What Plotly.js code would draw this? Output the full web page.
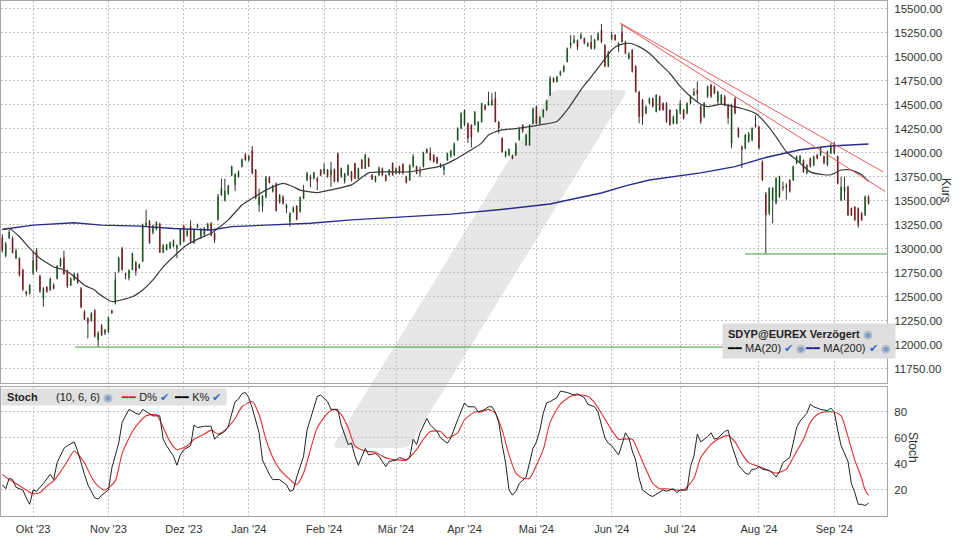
<!DOCTYPE html>
<html><head><meta charset="utf-8">
<script src="https://cdn.plot.ly/plotly-3.0.1.min.js"></script>
<style>html,body{margin:0;padding:0;background:#fff}#chart{width:960px;height:540px}</style>
</head><body><div id="chart"></div>
<script>
// ---- Daily candles (trading-day index 0 = 19 Sep 2023) ----
const openP = [13120,12925,13110,13110,12900,12900,12780,12555,12535,12745,12985,12715,12485,12600,12570,12620,12685,12820,12910,12770,
12620,12675,12735,12585,12345,12275,12250,12360,12050,12200,12120,12135,12355,12435,12765,13005,12740,12695,12780,12860,
12800,12870,13240,13285,13165,13200,13260,12960,12990,13005,13025,13000,13040,13240,13135,13235,13060,13225,13130,13145,
13200,13265,13160,13305,13560,13505,13570,13765,13665,13750,13855,13980,13920,14025,13820,13455,13440,13535,13745,13595,
13680,13480,13540,13420,13280,13385,13445,13385,13525,13715,13750,13730,13735,13820,13785,13820,13765,13825,13995,13750,
13700,13765,13800,13890,13730,13925,13835,13940,13765,13700,13765,13835,13765,13765,13890,13785,13855,13880,13750,13715,
13855,13855,13790,13855,14035,14000,13975,13950,13850,13820,13925,13960,13975,14130,14255,14290,14305,14290,14290,14220,
14320,14495,14495,14495,14565,14320,14150,13965,13975,13970,13975,14130,14290,14080,14080,14305,14480,14305,14375,14445,
14600,14775,14740,14810,14845,14945,15120,15145,15170,15190,15190,15110,15155,15085,15175,15275,15120,14900,15190,15225,
15100,15260,15155,14980,15070,14900,14635,14550,14410,14515,14565,14425,14585,14515,14515,14445,14305,14305,14410,14445,
14410,14515,14600,14650,14480,14375,14585,14705,14685,14530,14515,14585,14495,14100,14565,14255,14065,14045,14115,14130,
14290,14270,13905,13575,13370,13510,13475,13540,13645,13640,13715,13715,13890,13905,13920,13785,13940,13870,13975,13975,
13960,13870,13995,14095,13960,13505,13595,13645,13420,13435,13420,13370,13350,13540];
const highP = [13150,13070,13195,13130,13000,12910,12790,12560,12630,12970,13005,12730,12600,12610,12700,12640,12830,12905,12980,12780,
12700,12750,12745,12600,12360,12285,12340,12370,12140,12215,12165,12295,12365,12755,12915,13020,12750,12785,12960,12870,
12845,13260,13405,13300,13250,13285,13270,13045,13050,13075,13095,13045,13210,13250,13200,13295,13210,13260,13215,13225,
13270,13275,13170,13570,13730,13730,13665,13865,13785,13815,13940,13995,13975,14070,13830,13625,13560,13755,13755,13665,
13690,13570,13555,13470,13380,13440,13455,13545,13665,13800,13770,13800,13745,13830,13890,13830,13905,13835,14000,13845,
13790,13880,13810,13895,13845,13935,13990,13950,13780,13760,13855,13845,13775,13830,13900,13845,13865,13890,13760,13880,
13985,13865,13855,14010,14045,14055,13985,13960,13890,13870,14000,14030,14105,14265,14420,14450,14315,14295,14435,14330,
14520,14505,14635,14620,14635,14330,14160,14020,14045,13980,14105,14265,14295,14195,14295,14470,14490,14380,14455,14550,
14800,14785,14800,14855,14915,15095,15225,15225,15180,15250,15200,15150,15225,15185,15255,15340,15130,15060,15260,15235,
15150,15330,15165,15045,15080,14910,14645,14560,14490,14575,14575,14610,14595,14525,14525,14455,14385,14455,14550,14455,
14525,14595,14670,14740,14500,14530,14700,14720,14700,14645,14610,14600,14510,14510,14580,14265,14075,14195,14215,14265,
14390,14280,13920,13590,13640,13640,13745,13760,13700,13680,13725,13865,13970,13975,13930,13880,13950,13970,13990,14060,
13970,14020,14100,14110,13970,13750,13750,13655,13430,13445,13430,13380,13555,13555];
const lowP = [12960,12910,13100,12950,12890,12710,12560,12510,12520,12725,12760,12540,12395,12540,12560,12575,12680,12810,12730,12590,
12610,12665,12635,12380,12255,12065,12240,12075,11980,12090,12100,12125,12320,12420,12750,12770,12680,12670,12775,12720,
12790,12860,13230,13050,13150,13190,12955,12955,12980,12995,13015,12900,13035,13070,13125,13070,13050,13215,13100,13135,
13185,13130,13060,13290,13550,13490,13560,13755,13600,13740,13845,13915,13910,13775,13515,13385,13385,13525,13680,13585,
13385,13470,13460,13370,13230,13375,13295,13375,13515,13705,13640,13720,13610,13755,13775,13740,13645,13690,13690,13740,
13680,13760,13700,13725,13725,13830,13830,13850,13715,13690,13760,13760,13700,13760,13760,13775,13775,13775,13680,13705,
13845,13775,13750,13845,13990,13915,13895,13880,13840,13765,13915,13950,13965,14125,14245,14280,14100,14055,14280,14210,
14315,14440,14490,14490,14315,14200,14000,13950,13965,13930,13965,14125,14210,14070,14070,14295,14295,14295,14365,14435,
14590,14730,14730,14800,14835,14940,15085,15135,15070,15180,15130,15100,15075,15075,15165,15140,14890,14890,15170,15165,
15050,15145,15025,14970,14835,14625,14305,14290,14400,14505,14470,14420,14435,14435,14310,14280,14295,14295,14400,14345,
14400,14505,14590,14530,14300,14360,14570,14570,14610,14500,14505,14485,14300,14045,14400,14155,13840,14035,14105,14120,
14260,14035,13705,12950,13350,13265,13460,13530,13600,13510,13585,13705,13880,13895,13790,13775,13845,13860,13930,13965,
13880,13860,13985,13985,13670,13495,13505,13340,13340,13290,13220,13290,13340,13460];
const closeP = [12980,13055,13175,12960,12980,12725,12575,12530,12620,12880,12780,12555,12585,12555,12685,12585,12820,12895,12735,12605,
12690,12735,12645,12390,12265,12225,12325,12085,12125,12100,12155,12285,12330,12680,12905,12780,12720,12775,12950,12765,
12835,13250,13270,13060,13240,13275,12960,13035,13040,13065,13085,13035,13200,13075,13190,13075,13200,13250,13200,13210,
13260,13140,13090,13550,13630,13600,13655,13855,13775,13800,13930,13925,13965,13785,13525,13540,13550,13745,13685,13655,
13395,13560,13470,13455,13370,13430,13305,13535,13610,13785,13720,13790,13700,13765,13835,13750,13825,13700,13700,13835,
13780,13870,13720,13730,13835,13835,13975,13860,13720,13750,13845,13765,13710,13820,13765,13835,13785,13785,13690,13870,
13960,13785,13810,14000,14000,13925,13905,13890,13880,13855,13995,14020,14095,14255,14410,14445,14150,14160,14425,14320,
14515,14450,14530,14550,14320,14255,14010,14010,14035,13940,14095,14255,14220,14185,14290,14460,14305,14370,14445,14540,
14775,14740,14790,14845,14900,15085,15145,15180,15100,15225,15140,15140,15085,15175,15240,15155,14900,15050,15225,15175,
15140,15155,15035,15035,14845,14635,14375,14375,14480,14565,14480,14600,14445,14445,14325,14290,14375,14445,14515,14355,
14515,14585,14635,14615,14325,14515,14685,14585,14620,14635,14600,14495,14360,14495,14410,14165,14030,14185,14200,14255,
14270,14045,13715,13350,13630,13630,13735,13750,13630,13660,13595,13855,13960,13965,13800,13870,13855,13960,13940,14045,
13890,14010,14060,13995,13680,13645,13645,13350,13350,13300,13245,13300,13540,13470];

// ---- Moving averages (index, value) ----
const ma20Idx = [0,2,5,8,11,15,18,21,24,27,28,32,38,41,44,47,51,54,58,61,66,70,73,77,82,85,87,92,97,102,104,107,111,119,122,128,132,136,140,142,145,148,151,157,162,165,169,172,175,178,180,183,186,189,192,195,198,201,204,206,210,213,216,220,223,226,229,232,236,240,242,245,248,251,253];
const ma20Val = [13200,13210,13125,13005,12900,12810,12780,12710,12620,12570,12535,12450,12500,12570,12675,12810,12950,13040,13115,13160,13300,13455,13525,13610,13680,13645,13610,13585,13620,13665,13715,13790,13800,13800,13820,13860,13925,14010,14100,14185,14230,14245,14255,14290,14325,14445,14655,14790,14930,15070,15120,15140,15105,15035,14930,14825,14690,14585,14505,14480,14505,14485,14460,14410,14305,14165,14010,13925,13800,13770,13770,13820,13820,13770,13700];
const ma200Idx = [0,9,21,29,40,50,61,67,77,90,102,116,131,145,160,167,175,182,189,204,214,223,233,242,253];
const ma200Val = [13200,13245,13270,13245,13235,13210,13195,13230,13245,13265,13300,13330,13360,13405,13465,13520,13580,13655,13715,13790,13855,13950,14030,14070,14090];

// ---- Stochastic (10,6,6) ----
const stochKIdx = [0,1,2,3,4,6,7,8,9,10,12,14,15,16,18,19,21,22,24,25,27,28,29,31,32,34,35,37,39,40,41,43,44,46,47,48,50,51,52,53,55,56,57,59,61,62,63,65,66,68,69,70,71,72,73,75,76,78,79,81,83,84,85,86,88,89,91,92,93,95,96,98,99,100,101,102,103,104,105,106,107,109,110,112,113,115,116,118,119,120,121,122,124,125,127,128,130,131,133,135,136,138,139,141,142,143,144,145,146,147,148,149,150,151,153,154,155,156,157,158,159,160,162,163,165,167,168,170,171,173,174,176,177,178,180,181,182,183,184,185,186,187,189,190,192,193,194,196,197,198,200,201,202,203,204,206,207,208,209,211,212,213,214,215,217,218,219,220,221,222,224,225,226,227,228,230,231,232,233,235,236,237,239,241,242,243,244,245,247,248,249,250,251,252,253];
const stochKVal = [24,21,29,28,22,20,14,9,20,19,25,32,28,41,52,54,57,50,32,24,14,13,16,20,37,56,72,82,79,78,82,79,77,77,59,54,46,39,47,51,54,70,68,69,69,59,62,65,69,88,90,94,95,91,83,64,43,32,28,28,24,19,20,30,46,66,83,92,93,88,82,82,70,63,55,56,46,39,45,52,47,48,46,38,42,43,45,43,45,59,55,64,75,70,65,60,56,60,74,87,84,84,80,82,84,84,80,72,55,41,20,16,19,25,30,41,52,57,66,79,87,88,91,96,95,93,94,91,86,84,80,60,56,54,47,55,64,60,50,43,29,20,16,15,18,20,19,21,18,20,20,38,46,63,57,61,64,59,60,65,66,55,47,39,33,32,36,36,38,36,35,33,30,34,41,45,56,68,73,79,86,84,82,81,83,80,66,54,42,25,18,9,9,8,10,16];
const stochDIdx = [0,2,4,7,9,11,13,15,17,19,21,24,26,28,30,33,35,38,40,42,45,47,49,51,54,56,59,61,63,65,68,70,73,75,77,79,81,84,86,88,90,92,95,97,99,101,103,106,109,111,113,116,118,121,123,125,128,130,133,135,138,140,142,144,146,148,150,152,154,156,158,160,163,166,169,171,173,175,178,180,181,184,186,188,190,192,194,197,199,202,204,207,209,212,214,216,218,221,223,226,229,231,234,236,238,240,243,245,247,249,251,252,253];
const stochDVal = [32,28,25,20,17,18,23,27,34,42,50,41,30,23,20,27,48,65,72,77,78,68,57,51,54,59,63,66,63,66,75,84,88,78,59,45,36,28,24,33,51,68,79,82,78,68,54,50,49,46,44,43,43,51,59,65,65,60,64,74,80,80,82,79,66,47,33,29,29,39,51,72,86,92,93,92,87,79,66,59,59,59,48,36,25,21,21,20,20,29,45,55,59,62,57,48,41,38,36,33,36,45,59,72,78,80,80,77,61,43,29,20,16];

// ---- Trend lines and support lines ----
const trendAIdx = [180.5, 257.3], trendAVal = [15350, 13800];
const trendBIdx = [180.7, 257.9], trendBVal = [15340, 13595];
const support1Idx = [21.3, 258.4], support1Val = [11975, 11975];
const support2Idx = [217, 258.4], support2Val = [12945, 12945];

// ---- Axis labels ----
const monthIdx = [9,31,53,72,94,115,135,156,178,198,221,243];
const monthLabels = ["Okt '23","Nov '23","Dez '23","Jan '24","Feb '24","Mär '24","Apr '24","Mai '24","Jun '24","Jul '24","Aug '24","Sep '24"];

const FONT = 'Arial, "Liberation Sans", sans-serif';
const idx = openP.map((_, i) => i);

// wick trace built from high/low arrays
const wx = [], wy = [];
idx.forEach(i => { wx.push(i, i, null); wy.push(lowP[i], highP[i], null); });

const traces = [
  {type:'scatter', mode:'lines', x:ma200Idx, y:ma200Val, line:{color:'#2b2b8f', width:1.4}, xaxis:'x', yaxis:'y', hoverinfo:'skip'},
  {type:'scatter', mode:'lines', x:support1Idx, y:support1Val, line:{color:'#3c9c3c', width:1}, xaxis:'x', yaxis:'y'},
  {type:'scatter', mode:'lines', x:support2Idx, y:support2Val, line:{color:'#3c9c3c', width:1}, xaxis:'x', yaxis:'y'},
  {type:'scatter', mode:'lines', x:wx, y:wy, line:{color:'#333', width:1}, xaxis:'x', yaxis:'y', hoverinfo:'skip'},
  {type:'candlestick', x:idx, open:openP, high:highP, low:lowP, close:closeP, xaxis:'x', yaxis:'y',
    increasing:{fillcolor:'#1f9e2c', line:{color:'#1f9e2c', width:0}},
    decreasing:{fillcolor:'#e0202a', line:{color:'#e0202a', width:0}}, whiskerwidth:0},
  {type:'scatter', mode:'lines', x:ma20Idx, y:ma20Val, line:{color:'#3a3a3a', width:1.2, shape:'spline', smoothing:0.5}, xaxis:'x', yaxis:'y'},
  {type:'scatter', mode:'lines', x:trendAIdx, y:trendAVal, line:{color:'#ea5a5a', width:1}, xaxis:'x', yaxis:'y'},
  {type:'scatter', mode:'lines', x:trendBIdx, y:trendBVal, line:{color:'#ea5a5a', width:1}, xaxis:'x', yaxis:'y'},
  {type:'scatter', mode:'lines', x:stochDIdx, y:stochDVal, line:{color:'#e03030', width:1.1, shape:'spline', smoothing:0.6}, xaxis:'x2', yaxis:'y2'},
  {type:'scatter', mode:'lines', x:stochKIdx, y:stochKVal, line:{color:'#222', width:1}, xaxis:'x2', yaxis:'y2'}
];

// pixel -> paper helpers (plot area: x 1..887, y 1..516)
const L = 1, R = 73, T = 1, B = 24, W = 960, H = 540;
const pw = W - L - R, ph = H - T - B;
const fx = px => (px - L) / pw;
const fy = py => (H - B - py) / ph;

function roundedPoly(pts, r) {
  let d = '';
  const n = pts.length;
  for (let k = 0; k < n; k++) {
    const p0 = pts[(k - 1 + n) % n], p1 = pts[k], p2 = pts[(k + 1) % n];
    const v1 = [p0[0]-p1[0], p0[1]-p1[1]], v2 = [p2[0]-p1[0], p2[1]-p1[1]];
    const l1 = Math.hypot(...v1), l2 = Math.hypot(...v2);
    const a = [p1[0]+v1[0]/l1*r, p1[1]+v1[1]/l1*r], b = [p1[0]+v2[0]/l2*r, p1[1]+v2[1]/l2*r];
    d += (k === 0 ? 'M' : 'L') + fx(a[0]) + ',' + fy(a[1]) + ' Q' + fx(p1[0]) + ',' + fy(p1[1]) + ' ' + fx(b[0]) + ',' + fy(b[1]) + ' ';
  }
  return d + 'Z';
}

const grid = {showgrid:true, gridcolor:'#c4c4c4', griddash:'2px,2px', gridwidth:1};
const frame = {showline:true, mirror:true, linecolor:'#a6a6a6', linewidth:1, zeroline:false};
const xr = [-0.38, 258.4];

const layout = {
  width:W, height:H, margin:{l:L, r:R, t:T, b:B},
  paper_bgcolor:'#fff', plot_bgcolor:'rgba(0,0,0,0)',
  showlegend:false, font:{family:FONT, size:11, color:'#333'},
  xaxis:Object.assign({domain:[0,1], range:xr, anchor:'y', tickvals:monthIdx, ticktext:monthLabels, showticklabels:false, ticks:'', rangeslider:{visible:false}}, grid, frame),
  yaxis:Object.assign({domain:[fy(383), 1], range:[11601, 15580], side:'right', anchor:'x', tick0:11750, dtick:250, tickformat:'.2f', ticks:'outside', ticklen:4, tickcolor:'rgba(0,0,0,0)', tickfont:{size:11.5, color:'#333'}}, grid, frame),
  xaxis2:Object.assign({domain:[0,1], range:xr, anchor:'y2', tickvals:monthIdx, ticktext:monthLabels, ticks:'outside', ticklen:3, tickcolor:'rgba(0,0,0,0)', tickfont:{size:11, color:'#333'}}, grid, frame),
  yaxis2:Object.assign({domain:[0, fy(387)], range:[0, 99.2], side:'right', anchor:'x2', tickvals:[20,40,60,80], ticks:'outside', ticklen:4, tickcolor:'rgba(0,0,0,0)', tickfont:{size:11.5, color:'#333'}}, grid, frame),
  shapes:[
    {type:'path', xref:'paper', yref:'paper', layer:'below', fillcolor:'#e7e7e7', line:{width:0},
     path: roundedPoly([[552,90],[628,90],[408,448],[332,448]], 7)}
  ],
  annotations:[
    {xref:'paper', yref:'paper', x:fx(722), y:fy(323), xanchor:'left', yanchor:'top', align:'left', showarrow:false,
     bgcolor:'#dedede', borderpad:4,
     text:"<b>SDYP@EUREX Verzögert</b> <span style='color:#7d9cc0'>◉</span><br><span style='color:#000'>━━</span> MA(20) <span style='color:#2f6fd0'>✔</span> <span style='color:#7d9cc0'>◉</span><span style='color:#1a1a8c'>━━</span> MA(200) <span style='color:#2f6fd0'>✔</span> <span style='color:#7d9cc0'>◉</span>",
     font:{size:11, color:'#222', family:FONT}},
    {xref:'paper', yref:'paper', x:fx(1), y:fy(388), xanchor:'left', yanchor:'top', align:'left', showarrow:false,
     bgcolor:'#e0e0e0', borderpad:2,
     text:"<b> Stoch</b>      (10, 6, 6) <span style='color:#7d9cc0'>◉</span>   <span style='color:#d62020'>━━</span> D% <span style='color:#2f6fd0'>✔</span>  <span style='color:#000'>━━</span> K% <span style='color:#2f6fd0'>✔</span> ",
     font:{size:11, color:'#222', family:FONT}},
    {xref:'paper', yref:'paper', x:fx(946), y:fy(190), xanchor:'center', yanchor:'middle', showarrow:false, textangle:90, text:'Kurs', font:{size:12, color:'#333', family:FONT}},
    {xref:'paper', yref:'paper', x:fx(913), y:fy(447), xanchor:'center', yanchor:'middle', showarrow:false, textangle:90, text:'Stoch', font:{size:12, color:'#333', family:FONT}}
  ]
};

Plotly.newPlot('chart', traces, layout, {staticPlot:true, displayModeBar:false});
</script></body></html>
